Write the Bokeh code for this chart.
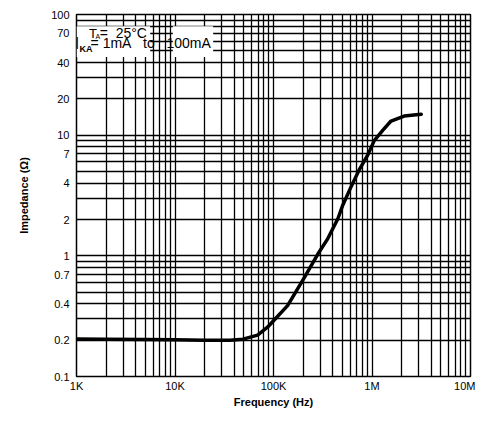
from bokeh.plotting import figure
from bokeh.models import FixedTicker, CustomJSTickFormatter, Label, BoxAnnotation
from bokeh.embed import file_html
from bokeh.resources import INLINE

# ---- data ----
freq_hz = [1e3, 2e3, 5e3, 1e4, 2e4, 3.6e4, 4.9e4, 6.9e4, 8.7e4, 1.0e5, 1.39e5,
           2.02e5, 2.81e5, 3.56e5, 4.5e5, 5.06e5, 6.11e5, 7.36e5, 9.1e5,
           1.05e6, 1.29e6, 1.56e6, 2.12e6, 3.16e6]
impedance = [0.205, 0.204, 0.203, 0.202, 0.2, 0.2, 0.204, 0.22, 0.256, 0.29,
             0.387, 0.644, 1.03, 1.39, 2.03, 2.64, 3.71, 5.1, 6.9, 8.97, 11.0,
             13.1, 14.4, 14.9]

x_ticks = [1e3, 1e4, 1e5, 1e6, 1e7]
x_labels = ["1K", "10K", "100K", "1M", "10M"]
y_ticks = [0.1, 0.2, 0.4, 0.7, 1, 2, 4, 7, 10, 20, 40, 70, 100]
y_labels = ["0.1", "0.2", "0.4", "0.7", "1", "2", "4", "7", "10", "20", "40", "70", "100"]

x_grid = [m * 10 ** e for e in range(3, 7) for m in range(1, 10)] + [1e7]
y_grid = [m * 10.0 ** e for e in range(-1, 2) for m in range(1, 10)] + [100]

FONT = "Liberation Sans"
NB = "\u00a0"

p = figure(width=475, height=410, x_axis_type="log", y_axis_type="log",
           x_range=(1e3, 1e7), y_range=(0.1, 100),
           output_backend="svg", toolbar_location=None,
           min_border_left=76, min_border_right=5,
           min_border_top=14, min_border_bottom=30)

p.background_fill_color = "white"
p.border_fill_color = "white"
p.outline_line_color = "black"
p.outline_line_width = 1.5

p.xgrid.ticker = FixedTicker(ticks=x_grid)
p.ygrid.ticker = FixedTicker(ticks=y_grid)
for g in (p.xgrid, p.ygrid):
    g.grid_line_color = "black"
    g.grid_line_width = 1.3
    g.grid_line_alpha = 1.0

fmt_code = """
let best = 0;
for (let i = 0; i < tvals.length; i++) {
  if (Math.abs(Math.log10(tvals[i]) - Math.log10(tick)) <
      Math.abs(Math.log10(tvals[best]) - Math.log10(tick))) best = i;
}
return tlabels[best];
"""

p.xaxis.ticker = FixedTicker(ticks=x_ticks)
p.xaxis.formatter = CustomJSTickFormatter(args=dict(tvals=x_ticks, tlabels=x_labels), code=fmt_code)
p.yaxis.ticker = FixedTicker(ticks=y_ticks)
p.yaxis.formatter = CustomJSTickFormatter(args=dict(tvals=y_ticks, tlabels=y_labels), code=fmt_code)

for ax in (p.xaxis, p.yaxis):
    ax.axis_line_color = None
    ax.major_tick_line_color = None
    ax.minor_tick_line_color = None
    ax.major_tick_out = 0
    ax.major_tick_in = 0
    ax.minor_tick_out = 0
    ax.major_label_text_font = FONT
    ax.major_label_text_font_size = "11px"
    ax.major_label_text_color = "black"
    ax.axis_label_text_font = FONT
    ax.axis_label_text_font_size = "11px"
    ax.axis_label_text_font_style = "bold"
    ax.axis_label_text_color = "black"

p.xaxis.axis_label = "Frequency (Hz)"
p.xaxis.major_label_standoff = 3
p.xaxis.axis_label_standoff = 1
p.yaxis.axis_label = "Impedance (\u03a9)"
p.yaxis.major_label_standoff = 7
p.yaxis.axis_label_standoff = 18

p.line(freq_hz, impedance, line_color="black", line_width=3.5, line_join="round", line_cap="round")

# annotation box (white, with a gap where the 6K-9K grid lines show through)
for lft, rgt in ((1e3, 5.6e3), (9.5e3, 2.44e4)):
    p.add_layout(BoxAnnotation(left=lft, right=rgt, bottom=44.5, top=80,
                               fill_color="white", fill_alpha=1.0, line_color=None))

def lab(x, y, t, size, style="normal"):
    p.add_layout(Label(x=x, y=y, text=t,
                       text_font=FONT, text_font_size=size, text_font_style=style,
                       text_baseline="middle", text_align="left", text_color="black"))

lab(1.34e3, 70, "T", "13px")
lab(1.56e3, 66, "A", "7px")
lab(1.72e3, 70, "=" + NB * 2 + "25\u00b0C", "14px")
lab(960, 57, "I", "16px")
lab(1.07e3, 52, "KA", "9px", "bold")
lab(1.39e3, 58.5, "=" + NB + "1mA" + NB * 3 + "to" + NB * 3 + "100mA", "14px")

open("out.html", "w").write(file_html(p, INLINE))
